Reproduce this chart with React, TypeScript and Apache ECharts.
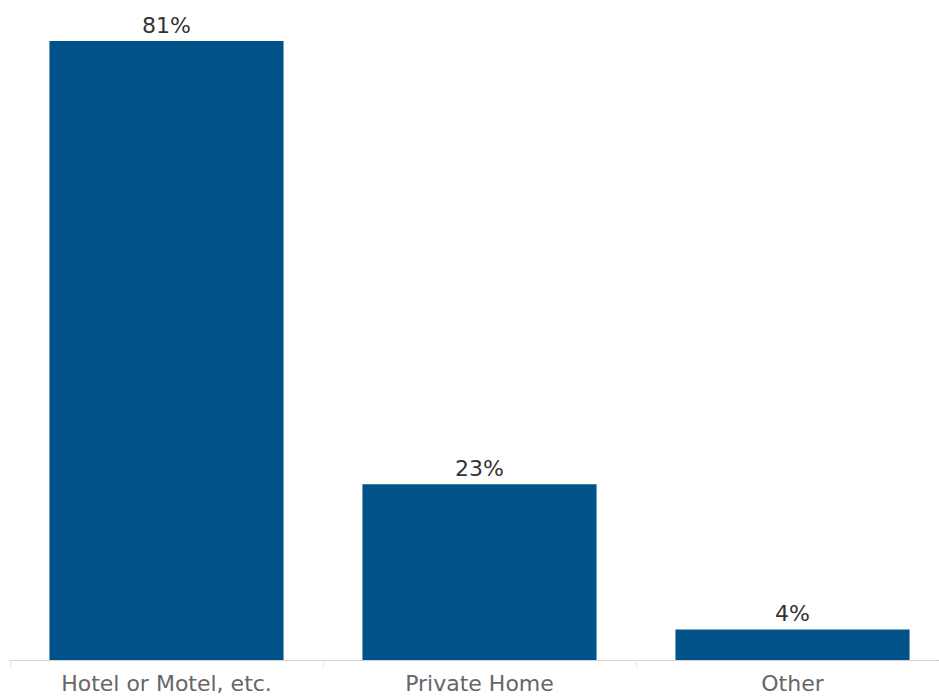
import React, { useEffect, useRef } from "react";
import * as echarts from "echarts";

const categories = ["Hotel or Motel, etc.", "Private Home", "Other"];
const values = [81, 23, 4];

export default function App() {
  const ref = useRef<HTMLDivElement>(null);
  useEffect(() => {
    if (!ref.current) return;
    const chart = echarts.init(ref.current, null, { renderer: "svg" });
    chart.setOption({
      animation: false,
      grid: { left: 10, top: 41, bottom: 38, width: 939, outerBoundsMode: "none" },
      xAxis: {
        type: "category",
        data: categories,
        axisLine: { show: true, lineStyle: { color: "#c8c8c8", type: "dotted", width: 1 } },
        axisTick: { show: true, length: 8, lineStyle: { color: "#e6e6e6" } },
        axisLabel: {
          color: "#666666",
          fontFamily: "DejaVu Sans",
          fontSize: 22,
          margin: 12,
        },
      },
      yAxis: {
        type: "value",
        min: 0,
        max: "dataMax",
        show: false,
        splitLine: { show: false },
      },
      series: [
        {
          type: "bar",
          data: values,
          barWidth: "74.8%",
          itemStyle: { color: "#02528a" },
          label: {
            show: true,
            position: "top",
            distance: 5,
            formatter: "{c}%",
            color: "#333333",
            fontFamily: "DejaVu Sans",
            fontSize: 22,
          },
        },
      ],
    });
    return () => chart.dispose();
  }, []);
  return (
    <div style={{ position: "absolute", left: 0, top: 0, width: 939, height: 698, overflow: "hidden" }}>
      <div
        ref={ref}
        style={{ position: "absolute", left: 0, top: 0, width: 960, height: 698, background: "#fff" }}
      />
    </div>
  );
}
